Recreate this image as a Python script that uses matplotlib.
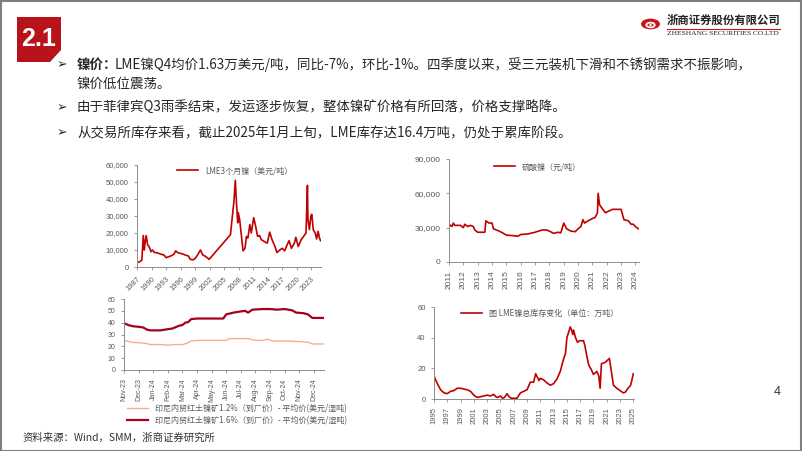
import matplotlib.pyplot as plt
from matplotlib.patches import Polygon, Circle, Rectangle
from matplotlib.ticker import FuncFormatter

plt.rcParams['font.family'] = ['Noto Sans CJK SC', 'DejaVu Sans']

# LME 3-month nickel, USD/t (year, value)
lme_year = [1987.0, 1987.5, 1988.0, 1988.3, 1988.5, 1988.7, 1988.9, 1989.2, 1989.5, 1989.9,
            1990.2, 1990.6, 1991.0, 1991.5, 1992.0, 1992.6, 1993.0, 1993.5, 1994.0, 1994.6,
            1995.0, 1995.4, 1996.0, 1996.6, 1997.0, 1997.6, 1998.0, 1998.6, 1999.0, 1999.5,
            2000.1, 2000.6, 2001.0, 2001.5, 2001.9, 2006.3, 2006.7, 2007.0, 2007.3, 2007.5,
            2007.8, 2007.9, 2008.2, 2008.5, 2008.9, 2009.3, 2009.6, 2009.9, 2010.3, 2010.6,
            2011.1, 2011.5, 2011.9, 2012.3, 2012.7, 2013.3, 2013.9, 2014.4, 2014.9, 2015.5,
            2015.9, 2016.5, 2017.0, 2017.5, 2018.0, 2018.4, 2018.9, 2019.5, 2019.8, 2020.3,
            2020.9, 2021.4, 2021.9, 2022.2, 2022.3, 2022.6, 2022.9, 2023.1, 2023.4, 2023.8,
            2024.1, 2024.4, 2024.7, 2024.9]
lme_price = [2500, 3000, 4000, 18500, 10000, 15000, 18500, 13000, 12000, 9000,
             10000, 8500, 8500, 8000, 7500, 7000, 5500, 6000, 6500, 7500,
             9500, 8500, 8000, 7500, 7000, 6500, 4500, 4200, 5000, 7000,
             10000, 7000, 6500, 5500, 4500, 19000, 30000, 38000, 51000, 40000,
             26000, 32000, 28000, 20000, 9500, 11000, 18000, 17000, 25000, 20000,
             29000, 24000, 18000, 18500, 16000, 15000, 14000, 20500, 16000, 12000,
             8500, 10000, 11000, 9500, 13000, 15500, 11000, 14000, 17500, 12000,
             16000, 18000, 20000, 48000, 28000, 22000, 30000, 31000, 22000, 20000,
             16500, 21000, 17000, 15500]

# nickel sulphate, CNY/t
ns_year = [2011.0, 2011.2, 2011.3, 2011.4, 2011.8, 2012.0, 2012.1, 2012.3, 2012.5, 2012.7,
           2012.8, 2013.0, 2013.5, 2013.57, 2013.8, 2014.0, 2014.1, 2014.5, 2014.8, 2015.0,
           2015.5, 2015.8, 2016.0, 2016.5, 2017.0, 2017.5, 2017.8, 2018.0, 2018.3, 2018.6,
           2018.8, 2019.0, 2019.2, 2019.5, 2019.8, 2020.0, 2020.2, 2020.34, 2020.45, 2020.7,
           2021.0, 2021.2, 2021.35, 2021.4, 2021.5, 2021.9, 2022.4, 2023.0, 2023.2, 2023.5,
           2023.7, 2023.85, 2024.0, 2024.2]
ns_price = [33000, 31000, 34000, 32000, 32000, 30000, 33000, 31000, 32000, 31000,
            28000, 26000, 26000, 36000, 34000, 34000, 29000, 27000, 25000, 23500,
            23000, 22500, 24000, 24500, 26000, 28000, 28000, 27000, 25000, 26000,
            25500, 34000, 29000, 27000, 26500, 29000, 31000, 37000, 34000, 36000,
            38000, 39000, 43000, 60000, 50000, 43000, 46000, 46000, 37000, 36000,
            33000, 33000, 31000, 29000]

# Indonesian laterite ore, USD/wmt (x = months since Nov-23)
ore_months = ['Nov-23', 'Dec-23', 'Jan-24', 'Feb-24', 'Mar-24', 'Apr-24', 'May-24',
              'Jun-24', 'Jul-24', 'Aug-24', 'Sep-24', 'Oct-24', 'Nov-24', 'Dec-24']
ore16_x = [0, 0.3, 0.6, 1.0, 1.3, 1.6, 1.8, 2.5, 3.0, 3.3, 3.6, 3.8, 4.0, 4.2, 4.4, 4.6,
           5.0, 6.0, 6.8, 7.0, 7.5, 8.0, 8.3, 8.5, 8.8, 9.5, 10.0, 10.5, 11.0, 11.5,
           11.8, 12.3, 12.6, 12.9, 13.7]
ore16_v = [39.5, 38, 37, 36.5, 36, 34, 33.5, 33.5, 34.5, 35, 36.5, 37.5, 38, 40, 40.5, 43,
           43.5, 43.5, 43.5, 47, 48.5, 49.5, 50, 48.5, 51, 51.5, 51.5, 51, 51.5, 50.5,
           48.5, 48, 47, 44, 44]
ore12_x = [0, 0.5, 1.0, 1.5, 1.8, 2.5, 3.0, 3.5, 4.0, 4.3, 4.6, 5.0, 7.0, 7.2, 8.5, 9.0,
           9.5, 9.8, 10.2, 11.0, 12.0, 12.6, 12.9, 13.7]
ore12_v = [25, 23.5, 23, 22.5, 21.5, 21.5, 21, 21.5, 21.5, 22.5, 24.5, 25, 25, 26.5, 26.5, 25,
           25, 26, 24.5, 24.5, 24, 23.5, 22, 22]

# LME nickel total stocks, 10kt
stk_year = [1995.0, 1995.5, 1996.0, 1996.5, 1997.0, 1997.5, 1998.0, 1998.5, 1999.0, 1999.5,
            2000.0, 2000.5, 2001.0, 2001.5, 2002.0, 2002.5, 2003.0, 2003.5, 2004.0, 2004.3,
            2004.6, 2005.0, 2005.3, 2005.6, 2006.0, 2006.3, 2006.6, 2007.0, 2007.5, 2008.0,
            2008.5, 2009.0, 2009.5, 2010.0, 2010.3, 2010.8, 2011.0, 2011.5, 2012.0, 2012.5,
            2013.0, 2013.5, 2014.0, 2014.5, 2014.8, 2015.0, 2015.3, 2015.5, 2015.7, 2015.9,
            2016.0, 2016.3, 2016.6, 2016.9, 2017.2, 2017.5, 2017.7, 2018.0, 2018.3, 2018.7,
            2019.0, 2019.5, 2019.8, 2020.0, 2020.2, 2020.8, 2021.4, 2022.0, 2022.5, 2023.0,
            2023.5, 2023.8, 2024.2, 2024.6, 2025.0]
stk_val = [15, 10, 6, 4, 3.5, 5, 5.5, 7, 7, 6.5,
           6, 5, 2.5, 1, 1.5, 2, 2.5, 2, 3, 1.5,
           1, 2, 0.5, 1, 3.5, 1.5, 0.5, 0.5, 0.5, 4,
           5, 6, 11, 11, 16.5, 12, 13.5, 12.5, 10.5, 9,
           10, 13, 18, 26, 30, 40, 44, 47, 45, 42,
           45, 40, 37, 38, 38, 38, 35, 28, 22, 19,
           16, 18, 15, 7, 23, 24, 26.5, 9, 7, 5.5,
           4, 4.5, 7, 9, 16.5]

W, H = 802, 451
RED = '#C00000'
GRAY = '#595959'


def box(x0, y0, x1, y1):
    return [x0 / W, 1 - y1 / H, (x1 - x0) / W, (y1 - y0) / H]


def fx(x):
    return x / W


def fy(y):
    return 1 - y / H


def style(ax, fs):
    for s in ['top', 'right']:
        ax.spines[s].set_visible(False)
    for s in ['left', 'bottom']:
        ax.spines[s].set_color('#8c8c8c')
        ax.spines[s].set_linewidth(0.7)
    ax.tick_params(colors=GRAY, labelsize=fs, length=2.5, width=0.6, color='#8c8c8c')
    for lab in ax.get_xticklabels() + ax.get_yticklabels():
        lab.set_fontfamily(['Liberation Sans', 'DejaVu Sans'])


fig = plt.figure(figsize=(8.02, 4.51), dpi=100)

# slide frame
fig.add_artist(Rectangle((0.5 / W, 0.5 / H), 1 - 1.5 / W, 1 - 1.5 / H, transform=fig.transFigure,
                         fill=False, ec='#7f7f7f', lw=1.5))

# section tag
tag = Polygon([(fx(17), fy(17)), (fx(61), fy(17)), (fx(61), fy(50)), (fx(50), fy(62)), (fx(17), fy(62))],
              closed=True, transform=fig.transFigure, fc='#B8121B', ec='none')
fig.add_artist(tag)
fig.text(fx(39), fy(39.5), '2.1', color='white', fontsize=18, fontweight='bold',
         family=['Liberation Sans'], ha='center', va='center')

# logo
fig.add_artist(Circle((fx(650.5), fy(24)), 9.5 / W, transform=fig.transFigure, fc='#C8161D', ec='none'))
fig.add_artist(Circle((fx(650.5), fy(25)), 4.2 / W, transform=fig.transFigure, fc='none', ec='white', lw=1.3))
fig.add_artist(Circle((fx(650.5), fy(25)), 1.5 / W, transform=fig.transFigure, fc='white', ec='none'))
fig.text(fx(667), fy(20.5), '浙商证券股份有限公司', fontsize=8.2, fontweight='bold', color='#222222',
         ha='left', va='center')
fig.add_artist(plt.Line2D([fx(667), fx(780)], [fy(28.5), fy(28.5)], transform=fig.transFigure,
                          color='#C8161D', lw=0.8))
fig.text(fx(667), fy(33.5), 'ZHESHANG SECURITIES CO.LTD', fontsize=5.4, color='#222222',
         family=['Liberation Serif'], ha='left', va='center')

# bullets
bfs = 9.7
for y in [65, 108, 133]:
    fig.text(fx(62), fy(y), '➢', fontsize=9, color='#262626', family=['DejaVu Sans'],
             ha='center', va='center')
fig.text(fx(77), fy(65), '镍价：', fontsize=bfs, fontweight='bold', color='#262626', va='center')
fig.text(fx(115), fy(65), 'LME镍Q4均价1.63万美元/吨，同比-7%，环比-1%。四季度以来，受三元装机下滑和不锈钢需求不振影响，',
         fontsize=bfs, color='#262626', va='center')
fig.text(fx(77), fy(84), '镍价低位震荡。', fontsize=bfs, color='#262626', va='center')
fig.text(fx(77), fy(108), '由于菲律宾Q3雨季结束，发运逐步恢复，整体镍矿价格有所回落，价格支撑略降。',
         fontsize=bfs, color='#262626', va='center')
fig.text(fx(77), fy(133), '从交易所库存来看，截止2025年1月上旬，LME库存达16.4万吨，仍处于累库阶段。',
         fontsize=bfs, color='#262626', va='center')

comma = FuncFormatter(lambda v, p: f'{v:,.0f}')

# chart 1: LME nickel price
ax1 = fig.add_axes(box(137, 165, 321, 267))
ax1.plot(lme_year, lme_price, color=RED, lw=1.2, label='LME3个月镍（美元/吨）')
ax1.set_xlim(1987, 2025)
ax1.set_ylim(0, 60000)
ax1.set_yticks(range(0, 60001, 10000))
ax1.yaxis.set_major_formatter(comma)
ax1.set_xticks(range(1987, 2024, 3))
style(ax1, 5.5)
for lab in ax1.get_xticklabels():
    lab.set_rotation(45)
    lab.set_ha('right')
    lab.set_rotation_mode('anchor')
ax1.legend(loc='upper left', bbox_to_anchor=(0.18, 1.06), frameon=False, fontsize=5.8,
           handlelength=2.6, labelcolor=GRAY)

# chart 2: nickel sulphate
ax2 = fig.add_axes(box(449, 159, 639, 262))
ax2.plot(ns_year, ns_price, color=RED, lw=1.2, label='硫酸镍（元/吨）')
ax2.set_xlim(2011, 2024.25)
ax2.set_ylim(0, 90000)
ax2.set_yticks([0, 30000, 60000, 90000])
ax2.yaxis.set_major_formatter(comma)
ax2.set_xticks(range(2011, 2025))
style(ax2, 6)
for lab in ax2.get_xticklabels():
    lab.set_rotation(90)
ax2.legend(loc='upper left', bbox_to_anchor=(0.2, 1.04), frameon=False, fontsize=5.8,
           handlelength=2.6, labelcolor=GRAY)

# chart 3: Indonesian laterite ore
ax3 = fig.add_axes(box(124, 299, 324, 370))
ax3.plot(ore12_x, ore12_v, color='#F4B183', lw=1.0,
         label='印尼内贸红土镍矿1.2%（到厂价）- 平均价(美元/湿吨)')
ax3.plot(ore16_x, ore16_v, color='#A50021', lw=1.6,
         label='印尼内贸红土镍矿1.6%（到厂价）- 平均价(美元/湿吨)')
ax3.set_xlim(0, 13.7)
ax3.set_ylim(0, 60)
ax3.set_yticks(range(0, 61, 10))
ax3.set_xticks(range(len(ore_months)))
ax3.set_xticklabels(ore_months)
style(ax3, 5)
for lab in ax3.get_xticklabels():
    lab.set_rotation(90)
ax3.legend(loc='upper left', bbox_to_anchor=(0.0, -0.43), frameon=False, fontsize=5.8,
           handlelength=2.6, labelspacing=0.35, labelcolor=GRAY, borderaxespad=0)

# chart 4: LME nickel stocks
ax4 = fig.add_axes(box(434, 307, 634, 399))
ax4.plot(stk_year, stk_val, color=RED, lw=1.2, label='图 LME镍总库存变化（单位：万吨）')
ax4.set_xlim(1995, 2025.1)
ax4.set_ylim(0, 60)
ax4.set_yticks([0, 20, 40, 60])
ax4.set_xticks(range(1995, 2026, 2))
style(ax4, 5.5)
for lab in ax4.get_xticklabels():
    lab.set_rotation(90)
ax4.legend(loc='upper left', bbox_to_anchor=(0.1, 1.06), frameon=False, fontsize=5.8,
           handlelength=2.6, labelcolor=GRAY)

# footer
fig.text(fx(23), fy(438), '资料来源：Wind，SMM，浙商证券研究所', fontsize=7.5, color='#333333', va='center')
fig.text(fx(777), fy(392), '4', fontsize=9, color='#333333', ha='center', va='center',
         family=['Liberation Sans'])

fig.savefig('out.png', dpi=100)
